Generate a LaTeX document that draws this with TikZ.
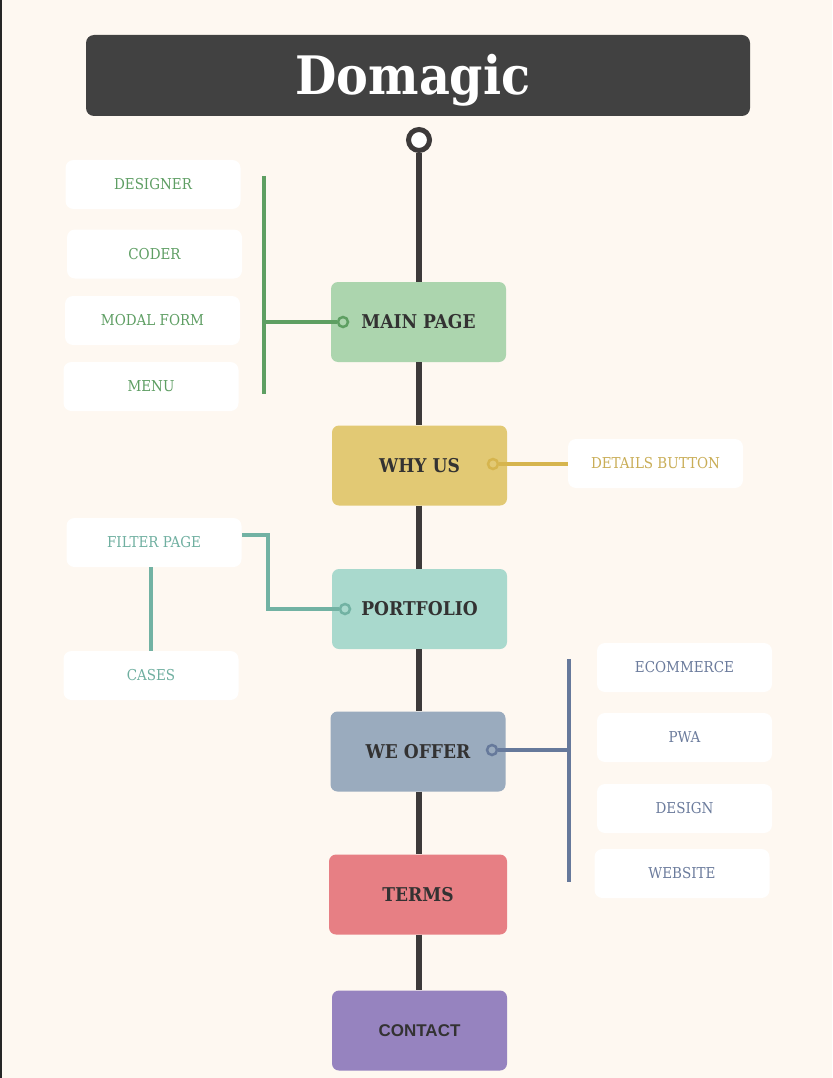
\documentclass[tikz,border=0pt]{standalone}
\usepackage{fontspec}
\newfontfamily\slab{DejaVu Serif Condensed}
\newfontfamily\sansb{Liberation Sans}
\definecolor{bg}{HTML}{FEF8F1}
\definecolor{titlebg}{HTML}{414141}
\definecolor{spine}{HTML}{3D3A3A}
\definecolor{tdark}{HTML}{333232}
\definecolor{cmain}{HTML}{ACD5AE}
\definecolor{cwhy}{HTML}{E2C974}
\definecolor{cport}{HTML}{A9D9CD}
\definecolor{coffer}{HTML}{9AABBE}
\definecolor{cterms}{HTML}{E77F84}
\definecolor{ccontact}{HTML}{9683BF}
\definecolor{lgreen}{HTML}{5E9F62}
\definecolor{tgreen}{HTML}{5E9E63}
\definecolor{lyellow}{HTML}{D6B54E}
\definecolor{tyellow}{HTML}{C9AD56}
\definecolor{lteal}{HTML}{72B2A3}
\definecolor{tteal}{HTML}{6FAFA0}
\definecolor{lblue}{HTML}{66799B}
\definecolor{tblue}{HTML}{6B7B9C}
\begin{document}
\begin{tikzpicture}[x=1pt,y=-1pt,
  mainbox/.style={rounded corners=7pt, minimum width=175pt, minimum height=80pt, inner sep=0pt,
    font=\slab\bfseries\fontsize{19}{19}\selectfont, text=tdark},
  sidebox/.style={fill=white, rounded corners=8pt, minimum width=175pt, minimum height=49pt, inner sep=0pt,
    font=\slab\fontsize{15}{15}\selectfont},
  dotnode/.style={circle, minimum size=10pt, inner sep=0pt, line width=2.5pt},
  spineline/.style={spine, line width=6pt},
  conn/.style={line width=3.2pt}
]
\fill[bg] (0,0) rectangle (832,1078);
\useasboundingbox (0,0) rectangle (832,1078);
\draw[black!85, line width=1.5pt] (0.75,0) -- (0.75,1078);

% title
\node[fill=titlebg, rounded corners=8pt, minimum width=664pt, minimum height=81pt, inner sep=0pt] (title) at (418,75.5) {};
\node[text=white, font=\slab\bfseries\fontsize{53}{53}\selectfont, inner sep=0pt, anchor=base] (titletext) at (413,95) {Domagic};

% top circle
\node[circle, draw=spine, fill=white, line width=5pt, minimum size=21pt, inner sep=0pt] (topc) at (419,140) {};

% main boxes
\node[mainbox, fill=cmain] (main) at (418.5,322) {MAIN PAGE};
\node[mainbox, fill=cwhy] (why) at (419.5,465.5) {WHY US};
\node[mainbox, fill=cport] (port) at (419.5,609) {PORTFOLIO};
\node[mainbox, fill=coffer] (offer) at (418,751.5) {WE OFFER};
\node[mainbox, fill=cterms, minimum width=178pt] (terms) at (418,894.5) {TERMS};
\node[mainbox, fill=ccontact, font=\sansb\bfseries\fontsize{17}{17}\selectfont] (contact) at (419.5,1030.5) {CONTACT};

% spine
\draw[spineline] (topc.south) -- (topc.south |- main.north);
\draw[spineline] (topc.south |- main.south) -- (topc.south |- why.north);
\draw[spineline] (topc.south |- why.south) -- (topc.south |- port.north);
\draw[spineline] (topc.south |- port.south) -- (topc.south |- offer.north);
\draw[spineline] (topc.south |- offer.south) -- (topc.south |- terms.north);
\draw[spineline] (topc.south |- terms.south) -- (topc.south |- contact.north);

% side boxes - main page
\node[sidebox, text=tgreen] (designer) at (153,184.5) {DESIGNER};
\node[sidebox, text=tgreen] (coder) at (154.5,254) {CODER};
\node[sidebox, text=tgreen] (modal) at (152.5,320.5) {MODAL FORM};
\node[sidebox, text=tgreen] (menu) at (151,386.5) {MENU};
\coordinate (gtop) at (264,176);
\coordinate (gbot) at (264,394);
\draw[lgreen, conn] (gtop) -- (gbot);
\node[dotnode, draw=lgreen, fill=cmain] (mdot) at (343,322) {};
\draw[lgreen, conn] (mdot.west) -- (mdot.west -| gtop);

% why us
\node[sidebox, text=tyellow] (details) at (655.5,463.5) {DETAILS BUTTON};
\node[dotnode, draw=lyellow, fill=cwhy] (wdot) at (493,464) {};
\draw[lyellow, conn] (wdot.east) -- (wdot.east -| details.west);

% portfolio
\node[sidebox, text=tteal] (filter) at (154,542.5) {FILTER PAGE};
\node[sidebox, text=tteal] (cases) at (151,675.5) {CASES};
\node[dotnode, draw=lteal, fill=cport] (pdot) at (345,609) {};
\coordinate (pk) at (268,535);
\draw[lteal, conn] (pdot.west) -| (pk) -- (pk -| filter.east);
\draw[lteal, conn] (cases.north |- filter.south) -- (cases.north);

% we offer
\node[sidebox, text=tblue] (ecom) at (684.5,667.5) {ECOMMERCE};
\node[sidebox, text=tblue] (pwa) at (684.5,737.5) {PWA};
\node[sidebox, text=tblue] (design) at (684.5,808.5) {DESIGN};
\node[sidebox, text=tblue] (website) at (682,873.5) {WEBSITE};
\coordinate (btop) at (569,659);
\coordinate (bbot) at (569,882);
\draw[lblue, conn] (btop) -- (bbot);
\node[dotnode, draw=lblue, fill=coffer] (odot) at (492,750) {};
\draw[lblue, conn] (odot.east) -- (odot.east -| btop);
\end{tikzpicture}
\end{document}
